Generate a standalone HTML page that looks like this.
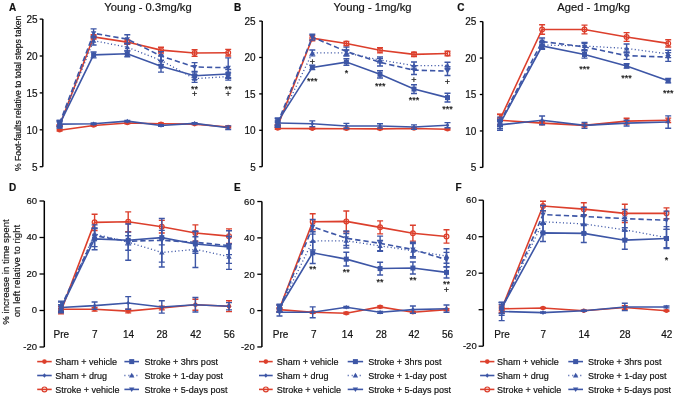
<!DOCTYPE html>
<html><head><meta charset="utf-8"><style>
html,body{margin:0;padding:0;background:#fff;width:675px;height:396px;overflow:hidden}
svg{display:block;filter:blur(0.25px)}
text{font-family:"Liberation Sans", sans-serif;fill:#111;stroke:#111;stroke-width:0.18px}
.t{font-size:10px}
.tb{font-size:10px}
.t2{font-size:9.5px}
.a{font-size:9px}
.L{font-size:10px;font-weight:bold}
.T{font-size:11.2px}
.Y{font-size:8.6px}
.Y2{font-size:9.7px}
.G{font-size:9px}
</style></head><body>
<svg width="675" height="396" viewBox="0 0 675 396">
<rect width="675" height="396" fill="#fff"/>
<line x1="42.8" y1="19.1" x2="42.8" y2="166.7" stroke="#000" stroke-width="1.5"/>
<line x1="39.7" y1="19.1" x2="42.8" y2="19.1" stroke="#000" stroke-width="1.3"/>
<text x="37.5" y="22.9" text-anchor="end" class="t">25</text>
<line x1="39.7" y1="56" x2="42.8" y2="56" stroke="#000" stroke-width="1.3"/>
<text x="37.5" y="59.8" text-anchor="end" class="t">20</text>
<line x1="39.7" y1="92.9" x2="42.8" y2="92.9" stroke="#000" stroke-width="1.3"/>
<text x="37.5" y="96.7" text-anchor="end" class="t">15</text>
<line x1="39.7" y1="129.8" x2="42.8" y2="129.8" stroke="#000" stroke-width="1.3"/>
<text x="37.5" y="133.6" text-anchor="end" class="t">10</text>
<line x1="39.7" y1="166.7" x2="42.8" y2="166.7" stroke="#000" stroke-width="1.3"/>
<text x="37.5" y="170.5" text-anchor="end" class="t">5</text>
<polyline points="59.6,130.3 93.6,125.54 127.3,122.98 161,123.71 194.6,124.08 228.2,127" fill="none" stroke="#dc3f2c" stroke-width="1.6"/>
<path d="M59.6 129.57V131.03M56.6 129.57H62.6M56.6 131.03H62.6" stroke="#dc3f2c" stroke-width="1.4" fill="none"/>
<path d="M93.6 124.81V126.27M90.6 124.81H96.6M90.6 126.27H96.6" stroke="#dc3f2c" stroke-width="1.4" fill="none"/>
<path d="M127.3 122.25V123.71M124.3 122.25H130.3M124.3 123.71H130.3" stroke="#dc3f2c" stroke-width="1.4" fill="none"/>
<path d="M161 122.98V124.44M158 122.98H164M158 124.44H164" stroke="#dc3f2c" stroke-width="1.4" fill="none"/>
<path d="M194.6 123.34V124.81M191.6 123.34H197.6M191.6 124.81H197.6" stroke="#dc3f2c" stroke-width="1.4" fill="none"/>
<path d="M228.2 126.27V127.74M225.2 126.27H231.2M225.2 127.74H231.2" stroke="#dc3f2c" stroke-width="1.4" fill="none"/>
<circle cx="59.6" cy="130.3" r="2.3" fill="#dc3f2c"/>
<circle cx="93.6" cy="125.54" r="2.3" fill="#dc3f2c"/>
<circle cx="127.3" cy="122.98" r="2.3" fill="#dc3f2c"/>
<circle cx="161" cy="123.71" r="2.3" fill="#dc3f2c"/>
<circle cx="194.6" cy="124.08" r="2.3" fill="#dc3f2c"/>
<circle cx="228.2" cy="127" r="2.3" fill="#dc3f2c"/>
<polyline points="59.6,125.54 93.6,36.97 127.3,42.09 161,50.14 194.6,53.07 228.2,52.71" fill="none" stroke="#dc3f2c" stroke-width="1.6"/>
<path d="M59.6 124.81V126.27M56.6 124.81H62.6M56.6 126.27H62.6" stroke="#dc3f2c" stroke-width="1.4" fill="none"/>
<path d="M93.6 34.77V39.16M90.6 34.77H96.6M90.6 39.16H96.6" stroke="#dc3f2c" stroke-width="1.4" fill="none"/>
<path d="M127.3 39.9V44.29M124.3 39.9H130.3M124.3 44.29H130.3" stroke="#dc3f2c" stroke-width="1.4" fill="none"/>
<path d="M161 47.22V53.07M158 47.22H164M158 53.07H164" stroke="#dc3f2c" stroke-width="1.4" fill="none"/>
<path d="M194.6 49.78V56.37M191.6 49.78H197.6M191.6 56.37H197.6" stroke="#dc3f2c" stroke-width="1.4" fill="none"/>
<path d="M228.2 49.41V56M225.2 49.41H231.2M225.2 56H231.2" stroke="#dc3f2c" stroke-width="1.4" fill="none"/>
<circle cx="59.6" cy="125.54" r="2.4" fill="none" stroke="#dc3f2c" stroke-width="1.2"/>
<circle cx="93.6" cy="36.97" r="2.4" fill="none" stroke="#dc3f2c" stroke-width="1.2"/>
<circle cx="127.3" cy="42.09" r="2.4" fill="none" stroke="#dc3f2c" stroke-width="1.2"/>
<circle cx="161" cy="50.14" r="2.4" fill="none" stroke="#dc3f2c" stroke-width="1.2"/>
<circle cx="194.6" cy="53.07" r="2.4" fill="none" stroke="#dc3f2c" stroke-width="1.2"/>
<circle cx="228.2" cy="52.71" r="2.4" fill="none" stroke="#dc3f2c" stroke-width="1.2"/>
<polyline points="59.6,124.08 93.6,123.71 127.3,121.15 161,125.54 194.6,123.34 228.2,127.74" fill="none" stroke="#3d56a6" stroke-width="1.6"/>
<path d="M59.6 121.88V126.27M56.6 121.88H62.6M56.6 126.27H62.6" stroke="#3d56a6" stroke-width="1.4" fill="none"/>
<path d="M93.6 122.98V124.44M90.6 122.98H96.6M90.6 124.44H96.6" stroke="#3d56a6" stroke-width="1.4" fill="none"/>
<path d="M127.3 120.42V121.88M124.3 120.42H130.3M124.3 121.88H130.3" stroke="#3d56a6" stroke-width="1.4" fill="none"/>
<path d="M161 124.81V126.27M158 124.81H164M158 126.27H164" stroke="#3d56a6" stroke-width="1.4" fill="none"/>
<path d="M194.6 122.61V124.08M191.6 122.61H197.6M191.6 124.08H197.6" stroke="#3d56a6" stroke-width="1.4" fill="none"/>
<path d="M228.2 125.91V129.57M225.2 125.91H231.2M225.2 129.57H231.2" stroke="#3d56a6" stroke-width="1.4" fill="none"/>
<path d="M59.6 121.78L61.44 124.08L59.6 126.38L57.76 124.08Z" fill="#3d56a6"/>
<path d="M93.6 121.41L95.44 123.71L93.6 126.01L91.76 123.71Z" fill="#3d56a6"/>
<path d="M127.3 118.85L129.14 121.15L127.3 123.45L125.46 121.15Z" fill="#3d56a6"/>
<path d="M161 123.24L162.84 125.54L161 127.84L159.16 125.54Z" fill="#3d56a6"/>
<path d="M194.6 121.04L196.44 123.34L194.6 125.64L192.76 123.34Z" fill="#3d56a6"/>
<path d="M228.2 125.44L230.04 127.74L228.2 130.04L226.36 127.74Z" fill="#3d56a6"/>
<polyline points="59.6,124.81 93.6,40.63 127.3,47.22 161,60.39 194.6,78.69 228.2,76.5" fill="none" stroke="#3d56a6" stroke-width="1.3" stroke-dasharray="1.1 2.4"/>
<path d="M59.6 121.51V128.1M56.6 121.51H62.6M56.6 128.1H62.6" stroke="#3d56a6" stroke-width="1.4" fill="none"/>
<path d="M93.6 36.24V45.02M90.6 36.24H96.6M90.6 45.02H96.6" stroke="#3d56a6" stroke-width="1.4" fill="none"/>
<path d="M127.3 43.56V50.88M124.3 43.56H130.3M124.3 50.88H130.3" stroke="#3d56a6" stroke-width="1.4" fill="none"/>
<path d="M161 56V64.78M158 56H164M158 64.78H164" stroke="#3d56a6" stroke-width="1.4" fill="none"/>
<path d="M194.6 75.03V82.35M191.6 75.03H197.6M191.6 82.35H197.6" stroke="#3d56a6" stroke-width="1.4" fill="none"/>
<path d="M228.2 72.84V80.16M225.2 72.84H231.2M225.2 80.16H231.2" stroke="#3d56a6" stroke-width="1.4" fill="none"/>
<path d="M59.6 122.11L62.3 126.83L56.9 126.83Z" fill="#3d56a6"/>
<path d="M93.6 37.93L96.3 42.65L90.9 42.65Z" fill="#3d56a6"/>
<path d="M127.3 44.52L130 49.24L124.6 49.24Z" fill="#3d56a6"/>
<path d="M161 57.69L163.7 62.42L158.3 62.42Z" fill="#3d56a6"/>
<path d="M194.6 75.99L197.3 80.72L191.9 80.72Z" fill="#3d56a6"/>
<path d="M228.2 73.8L230.9 78.52L225.5 78.52Z" fill="#3d56a6"/>
<polyline points="59.6,123.34 93.6,33.31 127.3,39.16 161,56 194.6,66.98 228.2,67.71" fill="none" stroke="#3d56a6" stroke-width="1.6" stroke-dasharray="5.3 3"/>
<path d="M59.6 120.42V126.27M56.6 120.42H62.6M56.6 126.27H62.6" stroke="#3d56a6" stroke-width="1.4" fill="none"/>
<path d="M93.6 28.92V37.7M90.6 28.92H96.6M90.6 37.7H96.6" stroke="#3d56a6" stroke-width="1.4" fill="none"/>
<path d="M127.3 34.77V43.56M124.3 34.77H130.3M124.3 43.56H130.3" stroke="#3d56a6" stroke-width="1.4" fill="none"/>
<path d="M161 51.61V60.39M158 51.61H164M158 60.39H164" stroke="#3d56a6" stroke-width="1.4" fill="none"/>
<path d="M194.6 62.59V71.37M191.6 62.59H197.6M191.6 71.37H197.6" stroke="#3d56a6" stroke-width="1.4" fill="none"/>
<path d="M228.2 57.83V77.59M225.2 57.83H231.2M225.2 77.59H231.2" stroke="#3d56a6" stroke-width="1.4" fill="none"/>
<path d="M59.6 126.04L62.3 121.32L56.9 121.32Z" fill="#3d56a6"/>
<path d="M93.6 36.01L96.3 31.28L90.9 31.28Z" fill="#3d56a6"/>
<path d="M127.3 41.86L130 37.14L124.6 37.14Z" fill="#3d56a6"/>
<path d="M161 58.7L163.7 53.98L158.3 53.98Z" fill="#3d56a6"/>
<path d="M194.6 69.68L197.3 64.95L191.9 64.95Z" fill="#3d56a6"/>
<path d="M228.2 70.41L230.9 65.69L225.5 65.69Z" fill="#3d56a6"/>
<polyline points="59.6,124.08 93.6,54.9 127.3,53.8 161,66.25 194.6,75.76 228.2,73.93" fill="none" stroke="#3d56a6" stroke-width="1.6"/>
<path d="M59.6 120.42V127.74M56.6 120.42H62.6M56.6 127.74H62.6" stroke="#3d56a6" stroke-width="1.4" fill="none"/>
<path d="M93.6 51.97V57.83M90.6 51.97H96.6M90.6 57.83H96.6" stroke="#3d56a6" stroke-width="1.4" fill="none"/>
<path d="M127.3 50.88V56.73M124.3 50.88H130.3M124.3 56.73H130.3" stroke="#3d56a6" stroke-width="1.4" fill="none"/>
<path d="M161 60.39V72.1M158 60.39H164M158 72.1H164" stroke="#3d56a6" stroke-width="1.4" fill="none"/>
<path d="M194.6 72.1V79.42M191.6 72.1H197.6M191.6 79.42H197.6" stroke="#3d56a6" stroke-width="1.4" fill="none"/>
<path d="M228.2 69.54V78.33M225.2 69.54H231.2M225.2 78.33H231.2" stroke="#3d56a6" stroke-width="1.4" fill="none"/>
<rect x="57.1" y="121.58" width="5" height="5" fill="#3d56a6"/>
<rect x="91.1" y="52.4" width="5" height="5" fill="#3d56a6"/>
<rect x="124.8" y="51.3" width="5" height="5" fill="#3d56a6"/>
<rect x="158.5" y="63.75" width="5" height="5" fill="#3d56a6"/>
<rect x="192.1" y="73.26" width="5" height="5" fill="#3d56a6"/>
<rect x="225.7" y="71.43" width="5" height="5" fill="#3d56a6"/>
<text x="194.6" y="91.6" text-anchor="middle" class="a">**</text>
<text x="194.6" y="97.3" text-anchor="middle" class="a">+</text>
<text x="228.2" y="91.6" text-anchor="middle" class="a">**</text>
<text x="228.2" y="97.3" text-anchor="middle" class="a">+</text>
<line x1="262.2" y1="21.1" x2="262.2" y2="166.7" stroke="#000" stroke-width="1.5"/>
<line x1="259.2" y1="21.1" x2="262.2" y2="21.1" stroke="#000" stroke-width="1.3"/>
<text x="255.7" y="24.9" text-anchor="end" class="t">25</text>
<line x1="259.2" y1="57.5" x2="262.2" y2="57.5" stroke="#000" stroke-width="1.3"/>
<text x="255.7" y="61.3" text-anchor="end" class="t">20</text>
<line x1="259.2" y1="93.9" x2="262.2" y2="93.9" stroke="#000" stroke-width="1.3"/>
<text x="255.7" y="97.7" text-anchor="end" class="t">15</text>
<line x1="259.2" y1="130.3" x2="262.2" y2="130.3" stroke="#000" stroke-width="1.3"/>
<text x="255.7" y="134.1" text-anchor="end" class="t">10</text>
<line x1="259.2" y1="166.7" x2="262.2" y2="166.7" stroke="#000" stroke-width="1.3"/>
<text x="255.7" y="170.5" text-anchor="end" class="t">5</text>
<polyline points="277.7,128.48 312.3,128.63 346.4,128.7 380,128.84 414,128.48 447.5,129.21" fill="none" stroke="#dc3f2c" stroke-width="1.6"/>
<path d="M277.7 127.75V129.21M274.7 127.75H280.7M274.7 129.21H280.7" stroke="#dc3f2c" stroke-width="1.4" fill="none"/>
<path d="M312.3 127.9V129.35M309.3 127.9H315.3M309.3 129.35H315.3" stroke="#dc3f2c" stroke-width="1.4" fill="none"/>
<path d="M346.4 127.97V129.43M343.4 127.97H349.4M343.4 129.43H349.4" stroke="#dc3f2c" stroke-width="1.4" fill="none"/>
<path d="M380 128.12V129.57M377 128.12H383M377 129.57H383" stroke="#dc3f2c" stroke-width="1.4" fill="none"/>
<path d="M414 127.75V129.21M411 127.75H417M411 129.21H417" stroke="#dc3f2c" stroke-width="1.4" fill="none"/>
<path d="M447.5 128.48V129.94M444.5 128.48H450.5M444.5 129.94H450.5" stroke="#dc3f2c" stroke-width="1.4" fill="none"/>
<circle cx="277.7" cy="128.48" r="2.3" fill="#dc3f2c"/>
<circle cx="312.3" cy="128.63" r="2.3" fill="#dc3f2c"/>
<circle cx="346.4" cy="128.7" r="2.3" fill="#dc3f2c"/>
<circle cx="380" cy="128.84" r="2.3" fill="#dc3f2c"/>
<circle cx="414" cy="128.48" r="2.3" fill="#dc3f2c"/>
<circle cx="447.5" cy="129.21" r="2.3" fill="#dc3f2c"/>
<polyline points="277.7,125.93 312.3,38.21 346.4,43.52 380,50.29 414,54.37 447.5,53.5" fill="none" stroke="#dc3f2c" stroke-width="1.6"/>
<path d="M277.7 124.48V127.39M274.7 124.48H280.7M274.7 127.39H280.7" stroke="#dc3f2c" stroke-width="1.4" fill="none"/>
<path d="M312.3 35.66V40.76M309.3 35.66H315.3M309.3 40.76H315.3" stroke="#dc3f2c" stroke-width="1.4" fill="none"/>
<path d="M346.4 41.34V45.71M343.4 41.34H349.4M343.4 45.71H349.4" stroke="#dc3f2c" stroke-width="1.4" fill="none"/>
<path d="M380 47.74V52.84M377 47.74H383M377 52.84H383" stroke="#dc3f2c" stroke-width="1.4" fill="none"/>
<path d="M414 52.19V56.55M411 52.19H417M411 56.55H417" stroke="#dc3f2c" stroke-width="1.4" fill="none"/>
<path d="M447.5 51.31V55.68M444.5 51.31H450.5M444.5 55.68H450.5" stroke="#dc3f2c" stroke-width="1.4" fill="none"/>
<circle cx="277.7" cy="125.93" r="2.4" fill="none" stroke="#dc3f2c" stroke-width="1.2"/>
<circle cx="312.3" cy="38.21" r="2.4" fill="none" stroke="#dc3f2c" stroke-width="1.2"/>
<circle cx="346.4" cy="43.52" r="2.4" fill="none" stroke="#dc3f2c" stroke-width="1.2"/>
<circle cx="380" cy="50.29" r="2.4" fill="none" stroke="#dc3f2c" stroke-width="1.2"/>
<circle cx="414" cy="54.37" r="2.4" fill="none" stroke="#dc3f2c" stroke-width="1.2"/>
<circle cx="447.5" cy="53.5" r="2.4" fill="none" stroke="#dc3f2c" stroke-width="1.2"/>
<polyline points="277.7,123.02 312.3,123.75 346.4,125.93 380,125.93 414,127.02 447.5,125.2" fill="none" stroke="#3d56a6" stroke-width="1.6"/>
<path d="M277.7 118.65V127.39M274.7 118.65H280.7M274.7 127.39H280.7" stroke="#3d56a6" stroke-width="1.4" fill="none"/>
<path d="M312.3 120.84V126.66M309.3 120.84H315.3M309.3 126.66H315.3" stroke="#3d56a6" stroke-width="1.4" fill="none"/>
<path d="M346.4 123.38V128.48M343.4 123.38H349.4M343.4 128.48H349.4" stroke="#3d56a6" stroke-width="1.4" fill="none"/>
<path d="M380 123.75V128.12M377 123.75H383M377 128.12H383" stroke="#3d56a6" stroke-width="1.4" fill="none"/>
<path d="M414 124.84V129.21M411 124.84H417M411 129.21H417" stroke="#3d56a6" stroke-width="1.4" fill="none"/>
<path d="M447.5 122.66V127.75M444.5 122.66H450.5M444.5 127.75H450.5" stroke="#3d56a6" stroke-width="1.4" fill="none"/>
<path d="M277.7 120.72L279.54 123.02L277.7 125.32L275.86 123.02Z" fill="#3d56a6"/>
<path d="M312.3 121.45L314.14 123.75L312.3 126.05L310.46 123.75Z" fill="#3d56a6"/>
<path d="M346.4 123.63L348.24 125.93L346.4 128.23L344.56 125.93Z" fill="#3d56a6"/>
<path d="M380 123.63L381.84 125.93L380 128.23L378.16 125.93Z" fill="#3d56a6"/>
<path d="M414 124.72L415.84 127.02L414 129.32L412.16 127.02Z" fill="#3d56a6"/>
<path d="M447.5 122.9L449.34 125.2L447.5 127.5L445.66 125.2Z" fill="#3d56a6"/>
<polyline points="277.7,124.48 312.3,52.91 346.4,52.91 380,59.98 414,65.58 447.5,65.51" fill="none" stroke="#3d56a6" stroke-width="1.3" stroke-dasharray="1.1 2.4"/>
<path d="M277.7 122.29V126.66M274.7 122.29H280.7M274.7 126.66H280.7" stroke="#3d56a6" stroke-width="1.4" fill="none"/>
<path d="M312.3 50V55.83M309.3 50H315.3M309.3 55.83H315.3" stroke="#3d56a6" stroke-width="1.4" fill="none"/>
<path d="M346.4 50V55.83M343.4 50H349.4M343.4 55.83H349.4" stroke="#3d56a6" stroke-width="1.4" fill="none"/>
<path d="M380 57.06V62.89M377 57.06H383M377 62.89H383" stroke="#3d56a6" stroke-width="1.4" fill="none"/>
<path d="M414 61.94V69.22M411 61.94H417M411 69.22H417" stroke="#3d56a6" stroke-width="1.4" fill="none"/>
<path d="M447.5 62.23V68.78M444.5 62.23H450.5M444.5 68.78H450.5" stroke="#3d56a6" stroke-width="1.4" fill="none"/>
<path d="M277.7 121.78L280.4 126.5L275 126.5Z" fill="#3d56a6"/>
<path d="M312.3 50.21L315 54.94L309.6 54.94Z" fill="#3d56a6"/>
<path d="M346.4 50.21L349.1 54.94L343.7 54.94Z" fill="#3d56a6"/>
<path d="M380 57.28L382.7 62L377.3 62Z" fill="#3d56a6"/>
<path d="M414 62.88L416.7 67.61L411.3 67.61Z" fill="#3d56a6"/>
<path d="M447.5 62.81L450.2 67.53L444.8 67.53Z" fill="#3d56a6"/>
<polyline points="277.7,123.02 312.3,37.12 346.4,51.53 380,62.3 414,70.17 447.5,71.11" fill="none" stroke="#3d56a6" stroke-width="1.6" stroke-dasharray="5.3 3"/>
<path d="M277.7 120.84V125.2M274.7 120.84H280.7M274.7 125.2H280.7" stroke="#3d56a6" stroke-width="1.4" fill="none"/>
<path d="M312.3 34.2V40.03M309.3 34.2H315.3M309.3 40.03H315.3" stroke="#3d56a6" stroke-width="1.4" fill="none"/>
<path d="M346.4 47.16V55.9M343.4 47.16H349.4M343.4 55.9H349.4" stroke="#3d56a6" stroke-width="1.4" fill="none"/>
<path d="M380 58.66V65.94M377 58.66H383M377 65.94H383" stroke="#3d56a6" stroke-width="1.4" fill="none"/>
<path d="M414 65.8V74.54M411 65.8H417M411 74.54H417" stroke="#3d56a6" stroke-width="1.4" fill="none"/>
<path d="M447.5 66.75V75.48M444.5 66.75H450.5M444.5 75.48H450.5" stroke="#3d56a6" stroke-width="1.4" fill="none"/>
<path d="M277.7 125.72L280.4 121L275 121Z" fill="#3d56a6"/>
<path d="M312.3 39.82L315 35.09L309.6 35.09Z" fill="#3d56a6"/>
<path d="M346.4 54.23L349.1 49.51L343.7 49.51Z" fill="#3d56a6"/>
<path d="M380 65L382.7 60.28L377.3 60.28Z" fill="#3d56a6"/>
<path d="M414 72.87L416.7 68.14L411.3 68.14Z" fill="#3d56a6"/>
<path d="M447.5 73.81L450.2 69.09L444.8 69.09Z" fill="#3d56a6"/>
<polyline points="277.7,121.56 312.3,67.4 346.4,62.09 380,74.32 414,89.1 447.5,97.61" fill="none" stroke="#3d56a6" stroke-width="1.6"/>
<path d="M277.7 117.92V125.2M274.7 117.92H280.7M274.7 125.2H280.7" stroke="#3d56a6" stroke-width="1.4" fill="none"/>
<path d="M312.3 65.22V69.58M309.3 65.22H315.3M309.3 69.58H315.3" stroke="#3d56a6" stroke-width="1.4" fill="none"/>
<path d="M346.4 58.81V65.36M343.4 58.81H349.4M343.4 65.36H349.4" stroke="#3d56a6" stroke-width="1.4" fill="none"/>
<path d="M380 70.68V77.96M377 70.68H383M377 77.96H383" stroke="#3d56a6" stroke-width="1.4" fill="none"/>
<path d="M414 84.73V93.46M411 84.73H417M411 93.46H417" stroke="#3d56a6" stroke-width="1.4" fill="none"/>
<path d="M447.5 93.24V101.98M444.5 93.24H450.5M444.5 101.98H450.5" stroke="#3d56a6" stroke-width="1.4" fill="none"/>
<rect x="275.2" y="119.06" width="5" height="5" fill="#3d56a6"/>
<rect x="309.8" y="64.9" width="5" height="5" fill="#3d56a6"/>
<rect x="343.9" y="59.59" width="5" height="5" fill="#3d56a6"/>
<rect x="377.5" y="71.82" width="5" height="5" fill="#3d56a6"/>
<rect x="411.5" y="86.6" width="5" height="5" fill="#3d56a6"/>
<rect x="445" y="95.11" width="5" height="5" fill="#3d56a6"/>
<text x="312.3" y="64.8" text-anchor="middle" class="a">+</text>
<text x="312.3" y="83.6" text-anchor="middle" class="a">***</text>
<text x="346.4" y="75.9" text-anchor="middle" class="a">*</text>
<text x="380.2" y="89.2" text-anchor="middle" class="a">***</text>
<text x="414" y="83.4" text-anchor="middle" class="a">+</text>
<text x="414" y="103.2" text-anchor="middle" class="a">***</text>
<text x="447.5" y="84.6" text-anchor="middle" class="a">+</text>
<text x="447.5" y="111.9" text-anchor="middle" class="a">***</text>
<line x1="482.8" y1="21.6" x2="482.8" y2="167.4" stroke="#000" stroke-width="1.5"/>
<line x1="479.8" y1="21.6" x2="482.8" y2="21.6" stroke="#000" stroke-width="1.3"/>
<text x="476.4" y="25.4" text-anchor="end" class="t">25</text>
<line x1="479.8" y1="58.05" x2="482.8" y2="58.05" stroke="#000" stroke-width="1.3"/>
<text x="476.4" y="61.85" text-anchor="end" class="t">20</text>
<line x1="479.8" y1="94.5" x2="482.8" y2="94.5" stroke="#000" stroke-width="1.3"/>
<text x="476.4" y="98.3" text-anchor="end" class="t">15</text>
<line x1="479.8" y1="130.95" x2="482.8" y2="130.95" stroke="#000" stroke-width="1.3"/>
<text x="476.4" y="134.75" text-anchor="end" class="t">10</text>
<line x1="479.8" y1="167.4" x2="482.8" y2="167.4" stroke="#000" stroke-width="1.3"/>
<text x="476.4" y="171.2" text-anchor="end" class="t">5</text>
<polyline points="500,120.31 542.1,123.15 584.5,125.41 626.6,121.11 668.2,120.31" fill="none" stroke="#dc3f2c" stroke-width="1.6"/>
<path d="M500 114.47V126.14M497 114.47H503M497 126.14H503" stroke="#dc3f2c" stroke-width="1.4" fill="none"/>
<path d="M542.1 121.69V124.61M539.1 121.69H545.1M539.1 124.61H545.1" stroke="#dc3f2c" stroke-width="1.4" fill="none"/>
<path d="M584.5 123.95V126.87M581.5 123.95H587.5M581.5 126.87H587.5" stroke="#dc3f2c" stroke-width="1.4" fill="none"/>
<path d="M626.6 118.19V124.02M623.6 118.19H629.6M623.6 124.02H629.6" stroke="#dc3f2c" stroke-width="1.4" fill="none"/>
<path d="M668.2 118.12V122.49M665.2 118.12H671.2M665.2 122.49H671.2" stroke="#dc3f2c" stroke-width="1.4" fill="none"/>
<circle cx="500" cy="120.31" r="2.3" fill="#dc3f2c"/>
<circle cx="542.1" cy="123.15" r="2.3" fill="#dc3f2c"/>
<circle cx="584.5" cy="125.41" r="2.3" fill="#dc3f2c"/>
<circle cx="626.6" cy="121.11" r="2.3" fill="#dc3f2c"/>
<circle cx="668.2" cy="120.31" r="2.3" fill="#dc3f2c"/>
<polyline points="500,119.29 542.1,29.47 584.5,29.47 626.6,36.98 668.2,43.4" fill="none" stroke="#dc3f2c" stroke-width="1.6"/>
<path d="M500 114.18V124.39M497 114.18H503M497 124.39H503" stroke="#dc3f2c" stroke-width="1.4" fill="none"/>
<path d="M542.1 24.73V34.21M539.1 24.73H545.1M539.1 34.21H545.1" stroke="#dc3f2c" stroke-width="1.4" fill="none"/>
<path d="M584.5 25.1V33.85M581.5 25.1H587.5M581.5 33.85H587.5" stroke="#dc3f2c" stroke-width="1.4" fill="none"/>
<path d="M626.6 32.61V41.36M623.6 32.61H629.6M623.6 41.36H629.6" stroke="#dc3f2c" stroke-width="1.4" fill="none"/>
<path d="M668.2 39.75V47.04M665.2 39.75H671.2M665.2 47.04H671.2" stroke="#dc3f2c" stroke-width="1.4" fill="none"/>
<circle cx="500" cy="119.29" r="2.4" fill="none" stroke="#dc3f2c" stroke-width="1.2"/>
<circle cx="542.1" cy="29.47" r="2.4" fill="none" stroke="#dc3f2c" stroke-width="1.2"/>
<circle cx="584.5" cy="29.47" r="2.4" fill="none" stroke="#dc3f2c" stroke-width="1.2"/>
<circle cx="626.6" cy="36.98" r="2.4" fill="none" stroke="#dc3f2c" stroke-width="1.2"/>
<circle cx="668.2" cy="43.4" r="2.4" fill="none" stroke="#dc3f2c" stroke-width="1.2"/>
<polyline points="500,124.83 542.1,120.31 584.5,125.41 626.6,123.15 668.2,122.06" fill="none" stroke="#3d56a6" stroke-width="1.6"/>
<path d="M500 121.18V128.47M497 121.18H503M497 128.47H503" stroke="#3d56a6" stroke-width="1.4" fill="none"/>
<path d="M542.1 115.93V124.68M539.1 115.93H545.1M539.1 124.68H545.1" stroke="#3d56a6" stroke-width="1.4" fill="none"/>
<path d="M584.5 122.49V128.33M581.5 122.49H587.5M581.5 128.33H587.5" stroke="#3d56a6" stroke-width="1.4" fill="none"/>
<path d="M626.6 120.23V126.07M623.6 120.23H629.6M623.6 126.07H629.6" stroke="#3d56a6" stroke-width="1.4" fill="none"/>
<path d="M668.2 115.86V128.25M665.2 115.86H671.2M665.2 128.25H671.2" stroke="#3d56a6" stroke-width="1.4" fill="none"/>
<path d="M500 122.53L501.84 124.83L500 127.13L498.16 124.83Z" fill="#3d56a6"/>
<path d="M542.1 118.01L543.94 120.31L542.1 122.61L540.26 120.31Z" fill="#3d56a6"/>
<path d="M584.5 123.11L586.34 125.41L584.5 127.71L582.66 125.41Z" fill="#3d56a6"/>
<path d="M626.6 120.85L628.44 123.15L626.6 125.45L624.76 123.15Z" fill="#3d56a6"/>
<path d="M668.2 119.76L670.04 122.06L668.2 124.36L666.36 122.06Z" fill="#3d56a6"/>
<polyline points="500,123.66 542.1,45 584.5,46.02 626.6,48.43 668.2,53.97" fill="none" stroke="#3d56a6" stroke-width="1.3" stroke-dasharray="1.1 2.4"/>
<path d="M500 120.74V126.58M497 120.74H503M497 126.58H503" stroke="#3d56a6" stroke-width="1.4" fill="none"/>
<path d="M542.1 41.36V48.65M539.1 41.36H545.1M539.1 48.65H545.1" stroke="#3d56a6" stroke-width="1.4" fill="none"/>
<path d="M584.5 42.38V49.67M581.5 42.38H587.5M581.5 49.67H587.5" stroke="#3d56a6" stroke-width="1.4" fill="none"/>
<path d="M626.6 44.05V52.8M623.6 44.05H629.6M623.6 52.8H629.6" stroke="#3d56a6" stroke-width="1.4" fill="none"/>
<path d="M668.2 50.32V57.61M665.2 50.32H671.2M665.2 57.61H671.2" stroke="#3d56a6" stroke-width="1.4" fill="none"/>
<path d="M500 120.96L502.7 125.69L497.3 125.69Z" fill="#3d56a6"/>
<path d="M542.1 42.3L544.8 47.03L539.4 47.03Z" fill="#3d56a6"/>
<path d="M584.5 43.32L587.2 48.05L581.8 48.05Z" fill="#3d56a6"/>
<path d="M626.6 45.73L629.3 50.45L623.9 50.45Z" fill="#3d56a6"/>
<path d="M668.2 51.27L670.9 55.99L665.5 55.99Z" fill="#3d56a6"/>
<polyline points="500,122.2 542.1,41.57 584.5,46.82 626.6,55.72 668.2,57.03" fill="none" stroke="#3d56a6" stroke-width="1.6" stroke-dasharray="5.3 3"/>
<path d="M500 119.29V125.12M497 119.29H503M497 125.12H503" stroke="#3d56a6" stroke-width="1.4" fill="none"/>
<path d="M542.1 37.93V45.22M539.1 37.93H545.1M539.1 45.22H545.1" stroke="#3d56a6" stroke-width="1.4" fill="none"/>
<path d="M584.5 43.18V50.47M581.5 43.18H587.5M581.5 50.47H587.5" stroke="#3d56a6" stroke-width="1.4" fill="none"/>
<path d="M626.6 52.07V59.36M623.6 52.07H629.6M623.6 59.36H629.6" stroke="#3d56a6" stroke-width="1.4" fill="none"/>
<path d="M668.2 52.66V61.4M665.2 52.66H671.2M665.2 61.4H671.2" stroke="#3d56a6" stroke-width="1.4" fill="none"/>
<path d="M500 124.9L502.7 120.18L497.3 120.18Z" fill="#3d56a6"/>
<path d="M542.1 44.27L544.8 39.55L539.4 39.55Z" fill="#3d56a6"/>
<path d="M584.5 49.52L587.2 44.8L581.8 44.8Z" fill="#3d56a6"/>
<path d="M626.6 58.42L629.3 53.69L623.9 53.69Z" fill="#3d56a6"/>
<path d="M668.2 59.73L670.9 55L665.5 55Z" fill="#3d56a6"/>
<polyline points="500,123.66 542.1,46.02 584.5,54.48 626.6,65.92 668.2,80.72" fill="none" stroke="#3d56a6" stroke-width="1.6"/>
<path d="M500 117.1V130.22M497 117.1H503M497 130.22H503" stroke="#3d56a6" stroke-width="1.4" fill="none"/>
<path d="M542.1 42.74V49.3M539.1 42.74H545.1M539.1 49.3H545.1" stroke="#3d56a6" stroke-width="1.4" fill="none"/>
<path d="M584.5 50.83V58.12M581.5 50.83H587.5M581.5 58.12H587.5" stroke="#3d56a6" stroke-width="1.4" fill="none"/>
<path d="M626.6 63.74V68.11M623.6 63.74H629.6M623.6 68.11H629.6" stroke="#3d56a6" stroke-width="1.4" fill="none"/>
<path d="M668.2 78.53V82.91M665.2 78.53H671.2M665.2 82.91H671.2" stroke="#3d56a6" stroke-width="1.4" fill="none"/>
<rect x="497.5" y="121.16" width="5" height="5" fill="#3d56a6"/>
<rect x="539.6" y="43.52" width="5" height="5" fill="#3d56a6"/>
<rect x="582" y="51.98" width="5" height="5" fill="#3d56a6"/>
<rect x="624.1" y="63.42" width="5" height="5" fill="#3d56a6"/>
<rect x="665.7" y="78.22" width="5" height="5" fill="#3d56a6"/>
<text x="584.5" y="71.6" text-anchor="middle" class="a">***</text>
<text x="626.6" y="80.7" text-anchor="middle" class="a">***</text>
<text x="668.2" y="95.7" text-anchor="middle" class="a">***</text>
<line x1="44.3" y1="201" x2="44.3" y2="347" stroke="#000" stroke-width="1.5"/>
<line x1="39.5" y1="201" x2="44.3" y2="201" stroke="#000" stroke-width="1.3"/>
<text x="37.1" y="203.8" text-anchor="end" class="t2">60</text>
<line x1="39.5" y1="237.5" x2="44.3" y2="237.5" stroke="#000" stroke-width="1.3"/>
<text x="37.1" y="240.3" text-anchor="end" class="t2">40</text>
<line x1="39.5" y1="274" x2="44.3" y2="274" stroke="#000" stroke-width="1.3"/>
<text x="37.1" y="276.8" text-anchor="end" class="t2">20</text>
<line x1="39.5" y1="310.5" x2="44.3" y2="310.5" stroke="#000" stroke-width="1.3"/>
<text x="37.1" y="313.3" text-anchor="end" class="t2">0</text>
<line x1="39.5" y1="347" x2="44.3" y2="347" stroke="#000" stroke-width="1.3"/>
<text x="37.1" y="349.8" text-anchor="end" class="t2">-20</text>
<text x="61.3" y="337.5" text-anchor="middle" class="tb">Pre</text>
<text x="94.9" y="337.5" text-anchor="middle" class="tb">7</text>
<text x="128.5" y="337.5" text-anchor="middle" class="tb">14</text>
<text x="162.1" y="337.5" text-anchor="middle" class="tb">28</text>
<text x="195.7" y="337.5" text-anchor="middle" class="tb">42</text>
<text x="229.3" y="337.5" text-anchor="middle" class="tb">56</text>
<polyline points="61,309.29 94.6,309.29 128.2,311.11 161.8,308.02 195.4,304.75 229,306.21" fill="none" stroke="#dc3f2c" stroke-width="1.6"/>
<path d="M61 306.57V312.01M58 306.57H64M58 312.01H64" stroke="#dc3f2c" stroke-width="1.4" fill="none"/>
<path d="M94.6 307.48V311.11M91.6 307.48H97.6M91.6 311.11H97.6" stroke="#dc3f2c" stroke-width="1.4" fill="none"/>
<path d="M128.2 309.29V312.92M125.2 309.29H131.2M125.2 312.92H131.2" stroke="#dc3f2c" stroke-width="1.4" fill="none"/>
<path d="M161.8 306.21V309.84M158.8 306.21H164.8M158.8 309.84H164.8" stroke="#dc3f2c" stroke-width="1.4" fill="none"/>
<path d="M195.4 299.31V310.2M192.4 299.31H198.4M192.4 310.2H198.4" stroke="#dc3f2c" stroke-width="1.4" fill="none"/>
<path d="M229 300.76V311.65M226 300.76H232M226 311.65H232" stroke="#dc3f2c" stroke-width="1.4" fill="none"/>
<circle cx="61" cy="309.29" r="2.3" fill="#dc3f2c"/>
<circle cx="94.6" cy="309.29" r="2.3" fill="#dc3f2c"/>
<circle cx="128.2" cy="311.11" r="2.3" fill="#dc3f2c"/>
<circle cx="161.8" cy="308.02" r="2.3" fill="#dc3f2c"/>
<circle cx="195.4" cy="304.75" r="2.3" fill="#dc3f2c"/>
<circle cx="229" cy="306.21" r="2.3" fill="#dc3f2c"/>
<polyline points="61,311.11 94.6,222.35 128.2,221.81 161.8,226.71 195.4,233.06 229,236.15" fill="none" stroke="#dc3f2c" stroke-width="1.6"/>
<path d="M61 308.38V313.83M58 308.38H64M58 313.83H64" stroke="#dc3f2c" stroke-width="1.4" fill="none"/>
<path d="M94.6 214.19V230.52M91.6 214.19H97.6M91.6 230.52H97.6" stroke="#dc3f2c" stroke-width="1.4" fill="none"/>
<path d="M128.2 211.83V231.79M125.2 211.83H131.2M125.2 231.79H131.2" stroke="#dc3f2c" stroke-width="1.4" fill="none"/>
<path d="M161.8 220.36V233.06M158.8 220.36H164.8M158.8 233.06H164.8" stroke="#dc3f2c" stroke-width="1.4" fill="none"/>
<path d="M195.4 224.89V241.23M192.4 224.89H198.4M192.4 241.23H198.4" stroke="#dc3f2c" stroke-width="1.4" fill="none"/>
<path d="M229 228.89V243.41M226 228.89H232M226 243.41H232" stroke="#dc3f2c" stroke-width="1.4" fill="none"/>
<circle cx="61" cy="311.11" r="2.4" fill="none" stroke="#dc3f2c" stroke-width="1.2"/>
<circle cx="94.6" cy="222.35" r="2.4" fill="none" stroke="#dc3f2c" stroke-width="1.2"/>
<circle cx="128.2" cy="221.81" r="2.4" fill="none" stroke="#dc3f2c" stroke-width="1.2"/>
<circle cx="161.8" cy="226.71" r="2.4" fill="none" stroke="#dc3f2c" stroke-width="1.2"/>
<circle cx="195.4" cy="233.06" r="2.4" fill="none" stroke="#dc3f2c" stroke-width="1.2"/>
<circle cx="229" cy="236.15" r="2.4" fill="none" stroke="#dc3f2c" stroke-width="1.2"/>
<polyline points="61,307.48 94.6,305.66 128.2,302.94 161.8,306.93 195.4,304.75 229,306.21" fill="none" stroke="#3d56a6" stroke-width="1.6"/>
<path d="M61 302.03V312.92M58 302.03H64M58 312.92H64" stroke="#3d56a6" stroke-width="1.4" fill="none"/>
<path d="M94.6 302.03V309.29M91.6 302.03H97.6M91.6 309.29H97.6" stroke="#3d56a6" stroke-width="1.4" fill="none"/>
<path d="M128.2 296.59V309.29M125.2 296.59H131.2M125.2 309.29H131.2" stroke="#3d56a6" stroke-width="1.4" fill="none"/>
<path d="M161.8 300.76V313.1M158.8 300.76H164.8M158.8 313.1H164.8" stroke="#3d56a6" stroke-width="1.4" fill="none"/>
<path d="M195.4 297.5V312.01M192.4 297.5H198.4M192.4 312.01H198.4" stroke="#3d56a6" stroke-width="1.4" fill="none"/>
<path d="M229 302.58V309.84M226 302.58H232M226 309.84H232" stroke="#3d56a6" stroke-width="1.4" fill="none"/>
<path d="M61 305.18L62.84 307.48L61 309.78L59.16 307.48Z" fill="#3d56a6"/>
<path d="M94.6 303.36L96.44 305.66L94.6 307.96L92.76 305.66Z" fill="#3d56a6"/>
<path d="M128.2 300.64L130.04 302.94L128.2 305.24L126.36 302.94Z" fill="#3d56a6"/>
<path d="M161.8 304.63L163.64 306.93L161.8 309.23L159.96 306.93Z" fill="#3d56a6"/>
<path d="M195.4 302.45L197.24 304.75L195.4 307.06L193.56 304.75Z" fill="#3d56a6"/>
<path d="M229 303.91L230.84 306.21L229 308.51L227.16 306.21Z" fill="#3d56a6"/>
<polyline points="61,308.38 94.6,233.97 128.2,242.14 161.8,252.48 195.4,249.4 229,256.66" fill="none" stroke="#3d56a6" stroke-width="1.3" stroke-dasharray="1.1 2.4"/>
<path d="M61 304.75V312.01M58 304.75H64M58 312.01H64" stroke="#3d56a6" stroke-width="1.4" fill="none"/>
<path d="M94.6 228.52V239.41M91.6 228.52H97.6M91.6 239.41H97.6" stroke="#3d56a6" stroke-width="1.4" fill="none"/>
<path d="M128.2 223.99V260.29M125.2 223.99H131.2M125.2 260.29H131.2" stroke="#3d56a6" stroke-width="1.4" fill="none"/>
<path d="M161.8 237.96V267M158.8 237.96H164.8M158.8 267H164.8" stroke="#3d56a6" stroke-width="1.4" fill="none"/>
<path d="M195.4 231.25V267.55M192.4 231.25H198.4M192.4 267.55H198.4" stroke="#3d56a6" stroke-width="1.4" fill="none"/>
<path d="M229 243.95V269.36M226 243.95H232M226 269.36H232" stroke="#3d56a6" stroke-width="1.4" fill="none"/>
<path d="M61 305.69L63.7 310.41L58.3 310.41Z" fill="#3d56a6"/>
<path d="M94.6 231.27L97.3 235.99L91.9 235.99Z" fill="#3d56a6"/>
<path d="M128.2 239.44L130.9 244.16L125.5 244.16Z" fill="#3d56a6"/>
<path d="M161.8 249.78L164.5 254.51L159.1 254.51Z" fill="#3d56a6"/>
<path d="M195.4 246.7L198.1 251.42L192.7 251.42Z" fill="#3d56a6"/>
<path d="M229 253.96L231.7 258.68L226.3 258.68Z" fill="#3d56a6"/>
<polyline points="61,306.57 94.6,235.78 128.2,241.23 161.8,240.32 195.4,242.32 229,245.59" fill="none" stroke="#3d56a6" stroke-width="1.6" stroke-dasharray="5.3 3"/>
<path d="M61 301.12V312.01M58 301.12H64M58 312.01H64" stroke="#3d56a6" stroke-width="1.4" fill="none"/>
<path d="M94.6 224.89V246.67M91.6 224.89H97.6M91.6 246.67H97.6" stroke="#3d56a6" stroke-width="1.4" fill="none"/>
<path d="M128.2 232.15V250.31M125.2 232.15H131.2M125.2 250.31H131.2" stroke="#3d56a6" stroke-width="1.4" fill="none"/>
<path d="M161.8 218.54V262.1M158.8 218.54H164.8M158.8 262.1H164.8" stroke="#3d56a6" stroke-width="1.4" fill="none"/>
<path d="M195.4 231.43V253.21M192.4 231.43H198.4M192.4 253.21H198.4" stroke="#3d56a6" stroke-width="1.4" fill="none"/>
<path d="M229 236.51V254.66M226 236.51H232M226 254.66H232" stroke="#3d56a6" stroke-width="1.4" fill="none"/>
<path d="M61 309.27L63.7 304.55L58.3 304.55Z" fill="#3d56a6"/>
<path d="M94.6 238.48L97.3 233.76L91.9 233.76Z" fill="#3d56a6"/>
<path d="M128.2 243.93L130.9 239.2L125.5 239.2Z" fill="#3d56a6"/>
<path d="M161.8 243.02L164.5 238.3L159.1 238.3Z" fill="#3d56a6"/>
<path d="M195.4 245.02L198.1 240.29L192.7 240.29Z" fill="#3d56a6"/>
<path d="M229 248.29L231.7 243.56L226.3 243.56Z" fill="#3d56a6"/>
<polyline points="61,308.38 94.6,238.87 128.2,240.32 161.8,237.6 195.4,243.95 229,247.04" fill="none" stroke="#3d56a6" stroke-width="1.6"/>
<path d="M61 304.75V312.01M58 304.75H64M58 312.01H64" stroke="#3d56a6" stroke-width="1.4" fill="none"/>
<path d="M94.6 227.98V249.76M91.6 227.98H97.6M91.6 249.76H97.6" stroke="#3d56a6" stroke-width="1.4" fill="none"/>
<path d="M128.2 235.78V244.86M125.2 235.78H131.2M125.2 244.86H131.2" stroke="#3d56a6" stroke-width="1.4" fill="none"/>
<path d="M161.8 230.34V244.86M158.8 230.34H164.8M158.8 244.86H164.8" stroke="#3d56a6" stroke-width="1.4" fill="none"/>
<path d="M195.4 236.69V251.21M192.4 236.69H198.4M192.4 251.21H198.4" stroke="#3d56a6" stroke-width="1.4" fill="none"/>
<path d="M229 230.7V263.37M226 230.7H232M226 263.37H232" stroke="#3d56a6" stroke-width="1.4" fill="none"/>
<rect x="58.5" y="305.88" width="5" height="5" fill="#3d56a6"/>
<rect x="92.1" y="236.37" width="5" height="5" fill="#3d56a6"/>
<rect x="125.7" y="237.82" width="5" height="5" fill="#3d56a6"/>
<rect x="159.3" y="235.1" width="5" height="5" fill="#3d56a6"/>
<rect x="192.9" y="241.45" width="5" height="5" fill="#3d56a6"/>
<rect x="226.5" y="244.54" width="5" height="5" fill="#3d56a6"/>
<line x1="261.9" y1="201.52" x2="261.9" y2="346.96" stroke="#000" stroke-width="1.5"/>
<line x1="257.3" y1="201.52" x2="261.9" y2="201.52" stroke="#000" stroke-width="1.3"/>
<text x="254.7" y="205.02" text-anchor="end" class="t2">60</text>
<line x1="257.3" y1="237.88" x2="261.9" y2="237.88" stroke="#000" stroke-width="1.3"/>
<text x="254.7" y="241.38" text-anchor="end" class="t2">40</text>
<line x1="257.3" y1="274.24" x2="261.9" y2="274.24" stroke="#000" stroke-width="1.3"/>
<text x="254.7" y="277.74" text-anchor="end" class="t2">20</text>
<line x1="257.3" y1="310.6" x2="261.9" y2="310.6" stroke="#000" stroke-width="1.3"/>
<text x="254.7" y="314.1" text-anchor="end" class="t2">0</text>
<line x1="257.3" y1="346.96" x2="261.9" y2="346.96" stroke="#000" stroke-width="1.3"/>
<text x="254.7" y="350.46" text-anchor="end" class="t2">-20</text>
<text x="280.6" y="337.5" text-anchor="middle" class="tb">Pre</text>
<text x="313.8" y="337.5" text-anchor="middle" class="tb">7</text>
<text x="347.4" y="337.5" text-anchor="middle" class="tb">14</text>
<text x="381.2" y="337.5" text-anchor="middle" class="tb">28</text>
<text x="414" y="337.5" text-anchor="middle" class="tb">42</text>
<text x="447.6" y="337.5" text-anchor="middle" class="tb">56</text>
<polyline points="279.5,309.59 312.7,312.31 346.3,313.22 380.1,306.87 412.9,312.31 446.5,309.59" fill="none" stroke="#dc3f2c" stroke-width="1.6"/>
<path d="M279.5 307.78V311.41M276.5 307.78H282.5M276.5 311.41H282.5" stroke="#dc3f2c" stroke-width="1.4" fill="none"/>
<path d="M312.7 311.41V313.22M309.7 311.41H315.7M309.7 313.22H315.7" stroke="#dc3f2c" stroke-width="1.4" fill="none"/>
<path d="M346.3 312.31V314.13M343.3 312.31H349.3M343.3 314.13H349.3" stroke="#dc3f2c" stroke-width="1.4" fill="none"/>
<path d="M380.1 305.96V307.78M377.1 305.96H383.1M377.1 307.78H383.1" stroke="#dc3f2c" stroke-width="1.4" fill="none"/>
<path d="M412.9 311.41V313.22M409.9 311.41H415.9M409.9 313.22H415.9" stroke="#dc3f2c" stroke-width="1.4" fill="none"/>
<path d="M446.5 308.69V310.5M443.5 308.69H449.5M443.5 310.5H449.5" stroke="#dc3f2c" stroke-width="1.4" fill="none"/>
<circle cx="279.5" cy="309.59" r="2.3" fill="#dc3f2c"/>
<circle cx="312.7" cy="312.31" r="2.3" fill="#dc3f2c"/>
<circle cx="346.3" cy="313.22" r="2.3" fill="#dc3f2c"/>
<circle cx="380.1" cy="306.87" r="2.3" fill="#dc3f2c"/>
<circle cx="412.9" cy="312.31" r="2.3" fill="#dc3f2c"/>
<circle cx="446.5" cy="309.59" r="2.3" fill="#dc3f2c"/>
<polyline points="279.5,308.69 312.7,221.75 346.3,221.38 380.1,227.37 412.9,233.18 446.5,236.45" fill="none" stroke="#dc3f2c" stroke-width="1.6"/>
<path d="M279.5 305.06V312.31M276.5 305.06H282.5M276.5 312.31H282.5" stroke="#dc3f2c" stroke-width="1.4" fill="none"/>
<path d="M312.7 213.76V229.73M309.7 213.76H315.7M309.7 229.73H315.7" stroke="#dc3f2c" stroke-width="1.4" fill="none"/>
<path d="M346.3 211.04V231.73M343.3 211.04H349.3M343.3 231.73H349.3" stroke="#dc3f2c" stroke-width="1.4" fill="none"/>
<path d="M380.1 220.84V233.91M377.1 220.84H383.1M377.1 233.91H383.1" stroke="#dc3f2c" stroke-width="1.4" fill="none"/>
<path d="M412.9 225.19V241.17M409.9 225.19H415.9M409.9 241.17H415.9" stroke="#dc3f2c" stroke-width="1.4" fill="none"/>
<path d="M446.5 229.73V243.16M443.5 229.73H449.5M443.5 243.16H449.5" stroke="#dc3f2c" stroke-width="1.4" fill="none"/>
<circle cx="279.5" cy="308.69" r="2.4" fill="none" stroke="#dc3f2c" stroke-width="1.2"/>
<circle cx="312.7" cy="221.75" r="2.4" fill="none" stroke="#dc3f2c" stroke-width="1.2"/>
<circle cx="346.3" cy="221.38" r="2.4" fill="none" stroke="#dc3f2c" stroke-width="1.2"/>
<circle cx="380.1" cy="227.37" r="2.4" fill="none" stroke="#dc3f2c" stroke-width="1.2"/>
<circle cx="412.9" cy="233.18" r="2.4" fill="none" stroke="#dc3f2c" stroke-width="1.2"/>
<circle cx="446.5" cy="236.45" r="2.4" fill="none" stroke="#dc3f2c" stroke-width="1.2"/>
<polyline points="279.5,312.31 312.7,312.31 346.3,307.23 380.1,312.31 412.9,309.59 446.5,308.69" fill="none" stroke="#3d56a6" stroke-width="1.6"/>
<path d="M279.5 308.69V315.94M276.5 308.69H282.5M276.5 315.94H282.5" stroke="#3d56a6" stroke-width="1.4" fill="none"/>
<path d="M312.7 306.87V317.76M309.7 306.87H315.7M309.7 317.76H315.7" stroke="#3d56a6" stroke-width="1.4" fill="none"/>
<path d="M346.3 306.33V308.14M343.3 306.33H349.3M343.3 308.14H349.3" stroke="#3d56a6" stroke-width="1.4" fill="none"/>
<path d="M380.1 311.41V313.22M377.1 311.41H383.1M377.1 313.22H383.1" stroke="#3d56a6" stroke-width="1.4" fill="none"/>
<path d="M412.9 305.96V313.22M409.9 305.96H415.9M409.9 313.22H415.9" stroke="#3d56a6" stroke-width="1.4" fill="none"/>
<path d="M446.5 305.06V312.31M443.5 305.06H449.5M443.5 312.31H449.5" stroke="#3d56a6" stroke-width="1.4" fill="none"/>
<path d="M279.5 310.01L281.34 312.31L279.5 314.62L277.66 312.31Z" fill="#3d56a6"/>
<path d="M312.7 310.01L314.54 312.31L312.7 314.62L310.86 312.31Z" fill="#3d56a6"/>
<path d="M346.3 304.93L348.14 307.23L346.3 309.53L344.46 307.23Z" fill="#3d56a6"/>
<path d="M380.1 310.01L381.94 312.31L380.1 314.62L378.26 312.31Z" fill="#3d56a6"/>
<path d="M412.9 307.29L414.74 309.59L412.9 311.89L411.06 309.59Z" fill="#3d56a6"/>
<path d="M446.5 306.38L448.34 308.69L446.5 310.99L444.66 308.69Z" fill="#3d56a6"/>
<polyline points="279.5,308.69 312.7,240.8 346.3,240.8 380.1,245.89 412.9,250.79 446.5,256.05" fill="none" stroke="#3d56a6" stroke-width="1.3" stroke-dasharray="1.1 2.4"/>
<path d="M279.5 305.06V312.31M276.5 305.06H282.5M276.5 312.31H282.5" stroke="#3d56a6" stroke-width="1.4" fill="none"/>
<path d="M312.7 231.73V249.88M309.7 231.73H315.7M309.7 249.88H315.7" stroke="#3d56a6" stroke-width="1.4" fill="none"/>
<path d="M346.3 233.54V248.06M343.3 233.54H349.3M343.3 248.06H349.3" stroke="#3d56a6" stroke-width="1.4" fill="none"/>
<path d="M380.1 240.44V251.33M377.1 240.44H383.1M377.1 251.33H383.1" stroke="#3d56a6" stroke-width="1.4" fill="none"/>
<path d="M412.9 243.53V258.05M409.9 243.53H415.9M409.9 258.05H415.9" stroke="#3d56a6" stroke-width="1.4" fill="none"/>
<path d="M446.5 248.79V263.31M443.5 248.79H449.5M443.5 263.31H449.5" stroke="#3d56a6" stroke-width="1.4" fill="none"/>
<path d="M279.5 305.99L282.2 310.71L276.8 310.71Z" fill="#3d56a6"/>
<path d="M312.7 238.1L315.4 242.83L310 242.83Z" fill="#3d56a6"/>
<path d="M346.3 238.1L349 242.83L343.6 242.83Z" fill="#3d56a6"/>
<path d="M380.1 243.19L382.8 247.91L377.4 247.91Z" fill="#3d56a6"/>
<path d="M412.9 248.09L415.6 252.81L410.2 252.81Z" fill="#3d56a6"/>
<path d="M446.5 253.35L449.2 258.07L443.8 258.07Z" fill="#3d56a6"/>
<polyline points="279.5,308.69 312.7,226.83 346.3,238.26 380.1,243.34 412.9,249.52 446.5,259.68" fill="none" stroke="#3d56a6" stroke-width="1.6" stroke-dasharray="5.3 3"/>
<path d="M279.5 305.06V312.31M276.5 305.06H282.5M276.5 312.31H282.5" stroke="#3d56a6" stroke-width="1.4" fill="none"/>
<path d="M312.7 219.57V234.09M309.7 219.57H315.7M309.7 234.09H315.7" stroke="#3d56a6" stroke-width="1.4" fill="none"/>
<path d="M346.3 231V245.52M343.3 231H349.3M343.3 245.52H349.3" stroke="#3d56a6" stroke-width="1.4" fill="none"/>
<path d="M380.1 236.09V250.61M377.1 236.09H383.1M377.1 250.61H383.1" stroke="#3d56a6" stroke-width="1.4" fill="none"/>
<path d="M412.9 242.26V256.78M409.9 242.26H415.9M409.9 256.78H415.9" stroke="#3d56a6" stroke-width="1.4" fill="none"/>
<path d="M446.5 252.42V266.94M443.5 252.42H449.5M443.5 266.94H449.5" stroke="#3d56a6" stroke-width="1.4" fill="none"/>
<path d="M279.5 311.38L282.2 306.66L276.8 306.66Z" fill="#3d56a6"/>
<path d="M312.7 229.53L315.4 224.8L310 224.8Z" fill="#3d56a6"/>
<path d="M346.3 240.96L349 236.24L343.6 236.24Z" fill="#3d56a6"/>
<path d="M380.1 246.04L382.8 241.32L377.4 241.32Z" fill="#3d56a6"/>
<path d="M412.9 252.22L415.6 247.49L410.2 247.49Z" fill="#3d56a6"/>
<path d="M446.5 262.38L449.2 257.66L443.8 257.66Z" fill="#3d56a6"/>
<polyline points="279.5,307.78 312.7,252.78 346.3,259.14 380.1,268.57 412.9,268.03 446.5,272.38" fill="none" stroke="#3d56a6" stroke-width="1.6"/>
<path d="M279.5 304.15V311.41M276.5 304.15H282.5M276.5 311.41H282.5" stroke="#3d56a6" stroke-width="1.4" fill="none"/>
<path d="M312.7 242.07V263.49M309.7 242.07H315.7M309.7 263.49H315.7" stroke="#3d56a6" stroke-width="1.4" fill="none"/>
<path d="M346.3 252.24V266.03M343.3 252.24H349.3M343.3 266.03H349.3" stroke="#3d56a6" stroke-width="1.4" fill="none"/>
<path d="M380.1 262.22V274.93M377.1 262.22H383.1M377.1 274.93H383.1" stroke="#3d56a6" stroke-width="1.4" fill="none"/>
<path d="M412.9 262.04V274.02M409.9 262.04H415.9M409.9 274.02H415.9" stroke="#3d56a6" stroke-width="1.4" fill="none"/>
<path d="M446.5 266.76V278.01M443.5 266.76H449.5M443.5 278.01H449.5" stroke="#3d56a6" stroke-width="1.4" fill="none"/>
<rect x="277" y="305.28" width="5" height="5" fill="#3d56a6"/>
<rect x="310.2" y="250.28" width="5" height="5" fill="#3d56a6"/>
<rect x="343.8" y="256.64" width="5" height="5" fill="#3d56a6"/>
<rect x="377.6" y="266.07" width="5" height="5" fill="#3d56a6"/>
<rect x="410.4" y="265.53" width="5" height="5" fill="#3d56a6"/>
<rect x="444" y="269.88" width="5" height="5" fill="#3d56a6"/>
<text x="312.7" y="272.3" text-anchor="middle" class="a">**</text>
<text x="346.3" y="274.8" text-anchor="middle" class="a">**</text>
<text x="380.1" y="284.9" text-anchor="middle" class="a">**</text>
<text x="412.9" y="282.9" text-anchor="middle" class="a">**</text>
<text x="446.5" y="286.6" text-anchor="middle" class="a">**</text>
<text x="446.5" y="292.7" text-anchor="middle" class="a">+</text>
<line x1="483.3" y1="200.2" x2="483.3" y2="346.2" stroke="#000" stroke-width="1.5"/>
<line x1="478.6" y1="200.2" x2="483.3" y2="200.2" stroke="#000" stroke-width="1.3"/>
<text x="476.7" y="203.2" text-anchor="end" class="t2">60</text>
<line x1="478.6" y1="236.7" x2="483.3" y2="236.7" stroke="#000" stroke-width="1.3"/>
<text x="476.7" y="239.7" text-anchor="end" class="t2">40</text>
<line x1="478.6" y1="273.2" x2="483.3" y2="273.2" stroke="#000" stroke-width="1.3"/>
<text x="476.7" y="276.2" text-anchor="end" class="t2">20</text>
<line x1="478.6" y1="309.7" x2="483.3" y2="309.7" stroke="#000" stroke-width="1.3"/>
<line x1="478.6" y1="346.2" x2="483.3" y2="346.2" stroke="#000" stroke-width="1.3"/>
<text x="476.7" y="349.2" text-anchor="end" class="t2">-20</text>
<text x="502" y="337.5" text-anchor="middle" class="tb">Pre</text>
<text x="543.3" y="337.5" text-anchor="middle" class="tb">7</text>
<text x="584.1" y="337.5" text-anchor="middle" class="tb">14</text>
<text x="625.1" y="337.5" text-anchor="middle" class="tb">28</text>
<text x="666.8" y="337.5" text-anchor="middle" class="tb">42</text>
<polyline points="501.7,308.79 543,308.06 583.8,310.8 624.8,307.51 666.5,310.8" fill="none" stroke="#dc3f2c" stroke-width="1.6"/>
<path d="M501.7 306.96V310.61M498.7 306.96H504.7M498.7 310.61H504.7" stroke="#dc3f2c" stroke-width="1.4" fill="none"/>
<path d="M543 307.51V308.6M540 307.51H546M540 308.6H546" stroke="#dc3f2c" stroke-width="1.4" fill="none"/>
<path d="M583.8 310.25V311.34M580.8 310.25H586.8M580.8 311.34H586.8" stroke="#dc3f2c" stroke-width="1.4" fill="none"/>
<path d="M624.8 305.69V309.33M621.8 305.69H627.8M621.8 309.33H627.8" stroke="#dc3f2c" stroke-width="1.4" fill="none"/>
<path d="M666.5 310.25V311.34M663.5 310.25H669.5M663.5 311.34H669.5" stroke="#dc3f2c" stroke-width="1.4" fill="none"/>
<circle cx="501.7" cy="308.79" r="2.3" fill="#dc3f2c"/>
<circle cx="543" cy="308.06" r="2.3" fill="#dc3f2c"/>
<circle cx="583.8" cy="310.8" r="2.3" fill="#dc3f2c"/>
<circle cx="624.8" cy="307.51" r="2.3" fill="#dc3f2c"/>
<circle cx="666.5" cy="310.8" r="2.3" fill="#dc3f2c"/>
<polyline points="501.7,308.79 543,206.04 583.8,209.14 624.8,213.34 666.5,213.34" fill="none" stroke="#dc3f2c" stroke-width="1.6"/>
<path d="M501.7 305.14V312.44M498.7 305.14H504.7M498.7 312.44H504.7" stroke="#dc3f2c" stroke-width="1.4" fill="none"/>
<path d="M543 201.29V210.78M540 201.29H546M540 210.78H546" stroke="#dc3f2c" stroke-width="1.4" fill="none"/>
<path d="M583.8 202.75V215.53M580.8 202.75H586.8M580.8 215.53H586.8" stroke="#dc3f2c" stroke-width="1.4" fill="none"/>
<path d="M624.8 204.22V222.46M621.8 204.22H627.8M621.8 222.46H627.8" stroke="#dc3f2c" stroke-width="1.4" fill="none"/>
<path d="M666.5 207.87V218.81M663.5 207.87H669.5M663.5 218.81H669.5" stroke="#dc3f2c" stroke-width="1.4" fill="none"/>
<circle cx="501.7" cy="308.79" r="2.4" fill="none" stroke="#dc3f2c" stroke-width="1.2"/>
<circle cx="543" cy="206.04" r="2.4" fill="none" stroke="#dc3f2c" stroke-width="1.2"/>
<circle cx="583.8" cy="209.14" r="2.4" fill="none" stroke="#dc3f2c" stroke-width="1.2"/>
<circle cx="624.8" cy="213.34" r="2.4" fill="none" stroke="#dc3f2c" stroke-width="1.2"/>
<circle cx="666.5" cy="213.34" r="2.4" fill="none" stroke="#dc3f2c" stroke-width="1.2"/>
<polyline points="501.7,311.52 543,312.62 583.8,310.8 624.8,306.96 666.5,306.96" fill="none" stroke="#3d56a6" stroke-width="1.6"/>
<path d="M501.7 302.4V320.65M498.7 302.4H504.7M498.7 320.65H504.7" stroke="#3d56a6" stroke-width="1.4" fill="none"/>
<path d="M543 312.07V313.17M540 312.07H546M540 313.17H546" stroke="#3d56a6" stroke-width="1.4" fill="none"/>
<path d="M583.8 310.25V311.34M580.8 310.25H586.8M580.8 311.34H586.8" stroke="#3d56a6" stroke-width="1.4" fill="none"/>
<path d="M624.8 303.31V310.61M621.8 303.31H627.8M621.8 310.61H627.8" stroke="#3d56a6" stroke-width="1.4" fill="none"/>
<path d="M666.5 306.05V307.88M663.5 306.05H669.5M663.5 307.88H669.5" stroke="#3d56a6" stroke-width="1.4" fill="none"/>
<path d="M501.7 309.22L503.54 311.52L501.7 313.82L499.86 311.52Z" fill="#3d56a6"/>
<path d="M543 310.32L544.84 312.62L543 314.92L541.16 312.62Z" fill="#3d56a6"/>
<path d="M583.8 308.5L585.64 310.8L583.8 313.1L581.96 310.8Z" fill="#3d56a6"/>
<path d="M624.8 304.66L626.64 306.96L624.8 309.26L622.96 306.96Z" fill="#3d56a6"/>
<path d="M666.5 304.66L668.34 306.96L666.5 309.26L664.66 306.96Z" fill="#3d56a6"/>
<polyline points="501.7,307.88 543,221.73 583.8,223.93 624.8,229.76 666.5,237.61" fill="none" stroke="#3d56a6" stroke-width="1.3" stroke-dasharray="1.1 2.4"/>
<path d="M501.7 302.4V313.35M498.7 302.4H504.7M498.7 313.35H504.7" stroke="#3d56a6" stroke-width="1.4" fill="none"/>
<path d="M543 210.78V232.69M540 210.78H546M540 232.69H546" stroke="#3d56a6" stroke-width="1.4" fill="none"/>
<path d="M583.8 214.8V233.05M580.8 214.8H586.8M580.8 233.05H586.8" stroke="#3d56a6" stroke-width="1.4" fill="none"/>
<path d="M624.8 220.64V238.89M621.8 220.64H627.8M621.8 238.89H627.8" stroke="#3d56a6" stroke-width="1.4" fill="none"/>
<path d="M666.5 226.66V248.56M663.5 226.66H669.5M663.5 248.56H669.5" stroke="#3d56a6" stroke-width="1.4" fill="none"/>
<path d="M501.7 305.18L504.4 309.9L499 309.9Z" fill="#3d56a6"/>
<path d="M543 219.03L545.7 223.76L540.3 223.76Z" fill="#3d56a6"/>
<path d="M583.8 221.23L586.5 225.95L581.1 225.95Z" fill="#3d56a6"/>
<path d="M624.8 227.06L627.5 231.79L622.1 231.79Z" fill="#3d56a6"/>
<path d="M666.5 234.91L669.2 239.64L663.8 239.64Z" fill="#3d56a6"/>
<polyline points="501.7,309.7 543,214.62 583.8,216.44 624.8,218.63 666.5,220.27" fill="none" stroke="#3d56a6" stroke-width="1.6" stroke-dasharray="5.3 3"/>
<path d="M501.7 304.22V315.18M498.7 304.22H504.7M498.7 315.18H504.7" stroke="#3d56a6" stroke-width="1.4" fill="none"/>
<path d="M543 205.49V223.74M540 205.49H546M540 223.74H546" stroke="#3d56a6" stroke-width="1.4" fill="none"/>
<path d="M583.8 207.32V225.57M580.8 207.32H586.8M580.8 225.57H586.8" stroke="#3d56a6" stroke-width="1.4" fill="none"/>
<path d="M624.8 209.51V227.76M621.8 209.51H627.8M621.8 227.76H627.8" stroke="#3d56a6" stroke-width="1.4" fill="none"/>
<path d="M666.5 211.15V229.4M663.5 211.15H669.5M663.5 229.4H669.5" stroke="#3d56a6" stroke-width="1.4" fill="none"/>
<path d="M501.7 312.4L504.4 307.68L499 307.68Z" fill="#3d56a6"/>
<path d="M543 217.32L545.7 212.59L540.3 212.59Z" fill="#3d56a6"/>
<path d="M583.8 219.14L586.5 214.42L581.1 214.42Z" fill="#3d56a6"/>
<path d="M624.8 221.33L627.5 216.61L622.1 216.61Z" fill="#3d56a6"/>
<path d="M666.5 222.97L669.2 218.25L663.8 218.25Z" fill="#3d56a6"/>
<polyline points="501.7,307.88 543,232.87 583.8,233.41 624.8,240.17 666.5,238.52" fill="none" stroke="#3d56a6" stroke-width="1.6"/>
<path d="M501.7 302.4V313.35M498.7 302.4H504.7M498.7 313.35H504.7" stroke="#3d56a6" stroke-width="1.4" fill="none"/>
<path d="M543 224.29V241.44M540 224.29H546M540 241.44H546" stroke="#3d56a6" stroke-width="1.4" fill="none"/>
<path d="M583.8 224.29V242.54M580.8 224.29H586.8M580.8 242.54H586.8" stroke="#3d56a6" stroke-width="1.4" fill="none"/>
<path d="M624.8 231.04V249.29M621.8 231.04H627.8M621.8 249.29H627.8" stroke="#3d56a6" stroke-width="1.4" fill="none"/>
<path d="M666.5 229.4V247.65M663.5 229.4H669.5M663.5 247.65H669.5" stroke="#3d56a6" stroke-width="1.4" fill="none"/>
<rect x="499.2" y="305.38" width="5" height="5" fill="#3d56a6"/>
<rect x="540.5" y="230.37" width="5" height="5" fill="#3d56a6"/>
<rect x="581.3" y="230.91" width="5" height="5" fill="#3d56a6"/>
<rect x="622.3" y="237.67" width="5" height="5" fill="#3d56a6"/>
<rect x="664" y="236.02" width="5" height="5" fill="#3d56a6"/>
<text x="666.5" y="262.6" text-anchor="middle" class="a">*</text>
<text x="9" y="11" class="L">A</text>
<text x="234" y="11" class="L">B</text>
<text x="457.3" y="11" class="L">C</text>
<text x="9" y="191" class="L">D</text>
<text x="234" y="191" class="L">E</text>
<text x="455.5" y="191" class="L">F</text>
<text x="148" y="11" text-anchor="middle" class="T">Young - 0.3mg/kg</text>
<text x="372.5" y="11" text-anchor="middle" class="T">Young - 1mg/kg</text>
<text x="593.7" y="11" text-anchor="middle" class="T">Aged - 1mg/kg</text>
<text transform="translate(20.6,93.3) rotate(-90)" text-anchor="middle" class="Y">% Foot-faults relative to total steps taken</text>
<text transform="translate(8.9,272) rotate(-90)" text-anchor="middle" class="Y2">% increase in time spent</text>
<text transform="translate(19.8,271) rotate(-90)" text-anchor="middle" class="Y2">on left relative to right</text>
<line x1="37.2" y1="361.6" x2="51.7" y2="361.6" stroke="#dc3f2c" stroke-width="1.6"/>
<circle cx="44.45" cy="361.6" r="2.3" fill="#dc3f2c"/>
<text x="55.3" y="365" class="G">Sham + vehicle</text>
<line x1="37.2" y1="375.5" x2="51.7" y2="375.5" stroke="#3d56a6" stroke-width="1.6"/>
<path d="M44.45 373.2L46.29 375.5L44.45 377.8L42.61 375.5Z" fill="#3d56a6"/>
<text x="55.3" y="378.9" class="G">Sham + drug</text>
<line x1="37.2" y1="389.4" x2="51.7" y2="389.4" stroke="#dc3f2c" stroke-width="1.6"/>
<circle cx="44.45" cy="389.4" r="2.4" fill="none" stroke="#dc3f2c" stroke-width="1.2"/>
<text x="55.3" y="392.8" class="G">Stroke + vehicle</text>
<line x1="124.4" y1="361.6" x2="139" y2="361.6" stroke="#3d56a6" stroke-width="1.6"/>
<rect x="129.2" y="359.1" width="5" height="5" fill="#3d56a6"/>
<text x="144.6" y="365" class="G">Stroke + 3hrs post</text>
<line x1="124.4" y1="375.5" x2="139" y2="375.5" stroke="#3d56a6" stroke-width="1.6" stroke-dasharray="1 3"/>
<path d="M131.7 372.8L134.4 377.52L129 377.52Z" fill="#3d56a6"/>
<text x="144.6" y="378.9" class="G">Stroke + 1-day post</text>
<line x1="124.4" y1="389.4" x2="139" y2="389.4" stroke="#3d56a6" stroke-width="1.6"/>
<path d="M131.7 392.1L134.4 387.38L129 387.38Z" fill="#3d56a6"/>
<text x="144.6" y="392.8" class="G">Stroke + 5-days post</text>
<line x1="259" y1="361.6" x2="272.7" y2="361.6" stroke="#dc3f2c" stroke-width="1.6"/>
<circle cx="265.85" cy="361.6" r="2.3" fill="#dc3f2c"/>
<text x="276.8" y="365" class="G">Sham + vehicle</text>
<line x1="259" y1="375.5" x2="272.7" y2="375.5" stroke="#3d56a6" stroke-width="1.6"/>
<path d="M265.85 373.2L267.69 375.5L265.85 377.8L264.01 375.5Z" fill="#3d56a6"/>
<text x="276.8" y="378.9" class="G">Sham + drug</text>
<line x1="259" y1="389.4" x2="272.7" y2="389.4" stroke="#dc3f2c" stroke-width="1.6"/>
<circle cx="265.85" cy="389.4" r="2.4" fill="none" stroke="#dc3f2c" stroke-width="1.2"/>
<text x="276.8" y="392.8" class="G">Stroke + vehicle</text>
<line x1="347.7" y1="361.6" x2="363.1" y2="361.6" stroke="#3d56a6" stroke-width="1.6"/>
<rect x="352.9" y="359.1" width="5" height="5" fill="#3d56a6"/>
<text x="368.2" y="365" class="G">Stroke + 3hrs post</text>
<line x1="347.7" y1="375.5" x2="363.1" y2="375.5" stroke="#3d56a6" stroke-width="1.6" stroke-dasharray="1 3"/>
<path d="M355.4 372.8L358.1 377.52L352.7 377.52Z" fill="#3d56a6"/>
<text x="368.2" y="378.9" class="G">Stroke + 1-day post</text>
<line x1="347.7" y1="389.4" x2="363.1" y2="389.4" stroke="#3d56a6" stroke-width="1.6"/>
<path d="M355.4 392.1L358.1 387.38L352.7 387.38Z" fill="#3d56a6"/>
<text x="368.2" y="392.8" class="G">Stroke + 5-days post</text>
<line x1="480.1" y1="361.6" x2="494.4" y2="361.6" stroke="#dc3f2c" stroke-width="1.6"/>
<circle cx="487.25" cy="361.6" r="2.3" fill="#dc3f2c"/>
<text x="497.1" y="365" class="G">Sham + vehicle</text>
<line x1="480.1" y1="375.5" x2="494.4" y2="375.5" stroke="#3d56a6" stroke-width="1.6"/>
<path d="M487.25 373.2L489.09 375.5L487.25 377.8L485.41 375.5Z" fill="#3d56a6"/>
<text x="497.1" y="378.9" class="G">Sham + drug</text>
<line x1="480.1" y1="389.4" x2="494.4" y2="389.4" stroke="#dc3f2c" stroke-width="1.6"/>
<circle cx="487.25" cy="389.4" r="2.4" fill="none" stroke="#dc3f2c" stroke-width="1.2"/>
<text x="497.1" y="392.8" class="G">Stroke + vehicle</text>
<line x1="568.3" y1="361.6" x2="583" y2="361.6" stroke="#3d56a6" stroke-width="1.6"/>
<rect x="573.15" y="359.1" width="5" height="5" fill="#3d56a6"/>
<text x="588.1" y="365" class="G">Stroke + 3hrs post</text>
<line x1="568.3" y1="375.5" x2="583" y2="375.5" stroke="#3d56a6" stroke-width="1.6" stroke-dasharray="1 3"/>
<path d="M575.65 372.8L578.35 377.52L572.95 377.52Z" fill="#3d56a6"/>
<text x="588.1" y="378.9" class="G">Stroke + 1-day post</text>
<line x1="568.3" y1="389.4" x2="583" y2="389.4" stroke="#3d56a6" stroke-width="1.6"/>
<path d="M575.65 392.1L578.35 387.38L572.95 387.38Z" fill="#3d56a6"/>
<text x="588.1" y="392.8" class="G">Stroke + 5-days post</text>
</svg></body></html>
